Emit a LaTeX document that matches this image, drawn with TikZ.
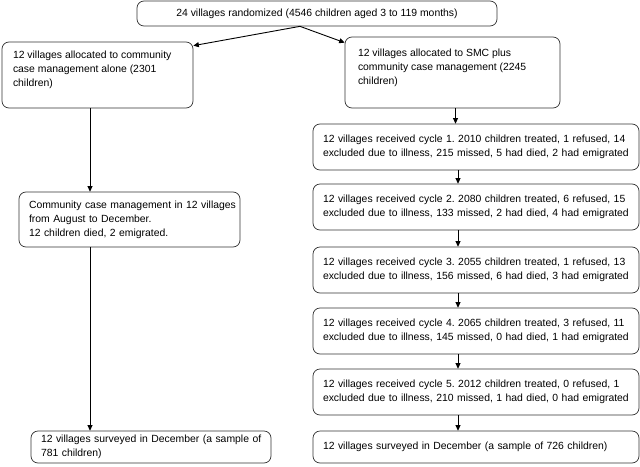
\documentclass[tikz,border=0pt]{standalone}
\usepackage{fontspec}
\setmainfont{Liberation Sans}
\usetikzlibrary{arrows.meta}
\frenchspacing
\begin{document}
\begin{tikzpicture}[x=1pt,y=-1pt,
  box/.style={draw=black!80, rounded corners=7pt, line width=0.7pt, inner sep=0pt,
    font=\fontsize{10.4}{14}\selectfont\frenchspacing},
  lbox/.style={box, align=left},
  cbox/.style={lbox, minimum width=326pt, minimum height=46pt, text width=306pt},
  arr/.style={-{Triangle[length=5.5pt,width=5pt]}, line width=0.9pt}]
\useasboundingbox[fill=white] (0,0) rectangle (640,466);

\node[box, align=center, minimum width=360pt, minimum height=25pt] (top) at (317,13.5)
  {24 villages randomized (4546 children aged 3 to 119 months)};

\node[box, minimum width=191pt, minimum height=66pt] (l1) at (97.5,75)
  {\parbox[c][48pt][t]{169pt}{\mbox{12 villages allocated to community}\\\mbox{case management alone (2301}\\children)}};

\node[box, minimum width=215pt, minimum height=71pt] (r1) at (452.5,72.5)
  {\parbox[c][47pt][t]{189pt}{\mbox{12 villages allocated to SMC plus}\\\mbox{community case management (2245}\\children)}};

\node[lbox, minimum width=221pt, minimum height=55pt, text width=201pt] (l2) at (129.5,219.5)
  {\mbox{Community case management in 12 villages}\\\mbox{from August to December.}\\\mbox{12 children died, 2 emigrated.}};

\node[lbox, minimum width=240pt, minimum height=32pt, text width=220pt] (l3) at (151,447)
  {\mbox{12 villages surveyed in December (a sample of}\\\mbox{781 children)}};

\node[cbox] (c1) at (476,147)
  {\mbox{12 villages received cycle 1. 2010 children treated, 1 refused, 14}\\\mbox{excluded due to illness, 215 missed, 5 had died, 2 had emigrated}};
\node[cbox] (c2) at (476,207)
  {\mbox{12 villages received cycle 2. 2080 children treated, 6 refused, 15}\\\mbox{excluded due to illness, 133 missed, 2 had died, 4 had emigrated}};
\node[cbox] (c3) at (476,270)
  {\mbox{12 villages received cycle 3. 2055 children treated, 1 refused, 13}\\\mbox{excluded due to illness, 156 missed, 6 had died, 3 had emigrated}};
\node[cbox] (c4) at (476,331)
  {\mbox{12 villages received cycle 4. 2065 children treated, 3 refused, 11}\\\mbox{excluded due to illness, 145 missed, 0 had died, 1 had emigrated}};
\node[cbox] (c5) at (476,392)
  {\mbox{12 villages received cycle 5. 2012 children treated, 0 refused, 1}\\\mbox{excluded due to illness, 210 missed, 1 had died, 0 had emigrated}};
\node[cbox, minimum height=32pt] (c6) at (476,447)
  {\mbox{12 villages surveyed in December (a sample of 726 children)}};

\draw[arr] ([xshift=-17pt]top.south) -- ([yshift=-4pt]l1.north east);
\draw[arr] ([xshift=-17pt]top.south) -- ([yshift=-6pt]r1.north west);
\draw[arr] ([xshift=3pt]r1.south) -- ([xshift=3pt]r1.south |- c1.north);
\foreach \a/\b in {c1/c2,c2/c3,c3/c4,c4/c5,c5/c6}
  \draw[arr] ([xshift=-18pt]\a.south) -- ([xshift=-18pt]\a.south |- \b.north);
\draw[arr] ([xshift=-7.5pt]l1.south) -- ([xshift=-7.5pt]l1.south |- l2.north);
\draw[arr] ([xshift=-39.5pt]l2.south) -- ([xshift=-39.5pt]l2.south |- l3.north);
\end{tikzpicture}
\end{document}
